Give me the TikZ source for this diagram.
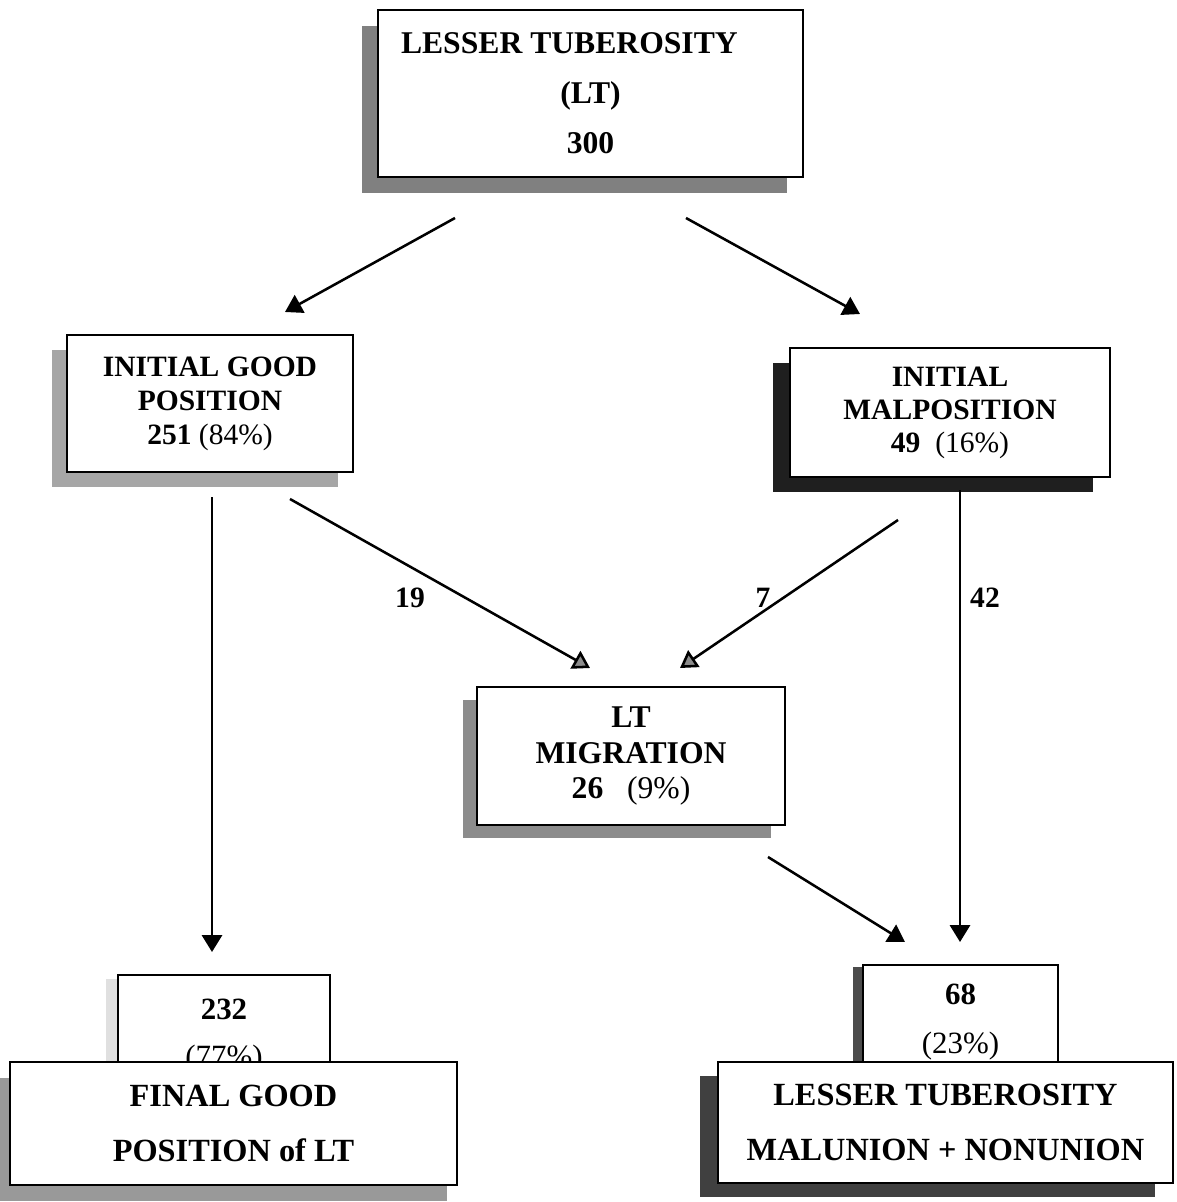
\documentclass[tikz,border=0pt]{standalone}
\usepackage{fontspec}
\setmainfont{Liberation Serif}
\usetikzlibrary{arrows.meta,shadows,calc}
\begin{document}
\begin{tikzpicture}[x=0.025cm,y=-0.025cm,
  box/.style={draw, line width=1.3pt, fill=white, inner sep=0pt, align=center},
  arr/.style={line width=1.8pt, -{Triangle[length=0.42cm,width=0.5cm]}},
  garr/.style={line width=1.8pt, -{Triangle[length=0.42cm,width=0.5cm,fill=black!45]}},
  lbl/.style={font=\bfseries\fontsize{21}{24}\selectfont},
  txt/.style={align=center, inner sep=0pt}
]
\useasboundingbox (0,0) rectangle (1176,1202);

% top box
\node[box, minimum width=10.625cm, minimum height=4.175cm,
  drop shadow={shadow xshift=-0.4cm, shadow yshift=-0.4cm, opacity=1, fill=black!50},
  font=\bfseries\fontsize{22.5}{35.6}\selectfont] (top) at (590.5,93.5)
  {\mbox{LESSER TUBEROSITY\hspace{30pt}}\\(LT)\\300};

% initial good position
\node[box, minimum width=7.15cm, minimum height=3.425cm,
  drop shadow={shadow xshift=-0.375cm, shadow yshift=-0.375cm, opacity=1, fill=black!35},
  font=\bfseries\fontsize{21}{24.2}\selectfont] (good) at (210,403.5)
  {INITIAL GOOD\\POSITION\\251 {\mdseries(84\%)}};

% initial malposition
\node[box, minimum width=8cm, minimum height=3.225cm,
  drop shadow={shadow xshift=-0.425cm, shadow yshift=-0.375cm, opacity=1, fill=black!88},
  font=\bfseries\fontsize{21}{23.5}\selectfont] (mal) at (950,412.5)
  {INITIAL\\MALPOSITION\\49~~{\mdseries(16\%)}};

% LT migration
\node[box, minimum width=7.7cm, minimum height=3.45cm,
  drop shadow={shadow xshift=-0.35cm, shadow yshift=-0.325cm, opacity=1, fill=black!45},
  font=\bfseries\fontsize{22.5}{25.6}\selectfont] (mig) at (631,756)
  {LT\\MIGRATION\\26~~~{\mdseries(9\%)}};

% 232 box
\node[box, minimum width=5.3cm, minimum height=2.175cm,
  drop shadow={shadow xshift=-0.3cm, shadow yshift=-0.1cm, opacity=1, fill=black!12}] (n232) at (224,1018.5) {};
\node[txt, font=\bfseries\fontsize{22}{34}\selectfont] (t232) at (224,1036) {232\\{\mdseries(77\%)}};

% 68 box
\node[box, minimum width=4.875cm, minimum height=2.425cm,
  drop shadow={shadow xshift=-0.25cm, shadow yshift=-0.05cm, opacity=1, fill=black!70}] (n68) at (960.5,1013.5) {};
\node[txt, font=\bfseries\fontsize{22}{35}\selectfont] (t68) at (960.5,1022) {68\\{\mdseries(23\%)}};

% final good position
\node[box, minimum width=11.175cm, minimum height=3.075cm,
  drop shadow={shadow xshift=-0.25cm, shadow yshift=-0.4cm, opacity=1, fill=black!40},
  font=\bfseries\fontsize{23}{39}\selectfont] (final) at (233.5,1123.5)
  {FINAL GOOD\\POSITION of LT};

% lesser tuberosity malunion
\node[box, minimum width=11.375cm, minimum height=3.025cm,
  drop shadow={shadow xshift=-0.45cm, shadow yshift=-0.35cm, opacity=1, fill=black!75},
  font=\bfseries\fontsize{23}{39}\selectfont] (mnu) at (945.5,1122.5)
  {LESSER TUBEROSITY\\MALUNION + NONUNION};

% connector endpoints
\coordinate (a1s) at (455,218);  \coordinate (a1e) at (285,312);
\coordinate (a2s) at (686,218);  \coordinate (a2e) at (860,314);
\coordinate (a3s) at (212,497);  \coordinate (a3e) at (212,952);
\coordinate (a4s) at (290,499);  \coordinate (a4e) at (590,668);
\coordinate (a5s) at (898,520);  \coordinate (a5e) at (680,668);
\coordinate (a6s) at (960,490);  \coordinate (a6e) at (960,942);
\coordinate (a7s) at (768,857);  \coordinate (a7e) at (905,942);

\draw[arr] (a1s) -- (a1e);
\draw[arr] (a2s) -- (a2e);
\draw[arr] (a3s) -- (a3e);
\draw[garr] (a4s) -- (a4e);
\draw[garr] (a5s) -- (a5e);
\draw[arr] (a6s) -- (a6e);
\draw[arr] (a7s) -- (a7e);

\node[lbl] (l19) at (410,598) {19};
\node[lbl] (l7) at (763,598) {7};
\node[lbl] (l42) at (985,598) {42};
\end{tikzpicture}
\end{document}
